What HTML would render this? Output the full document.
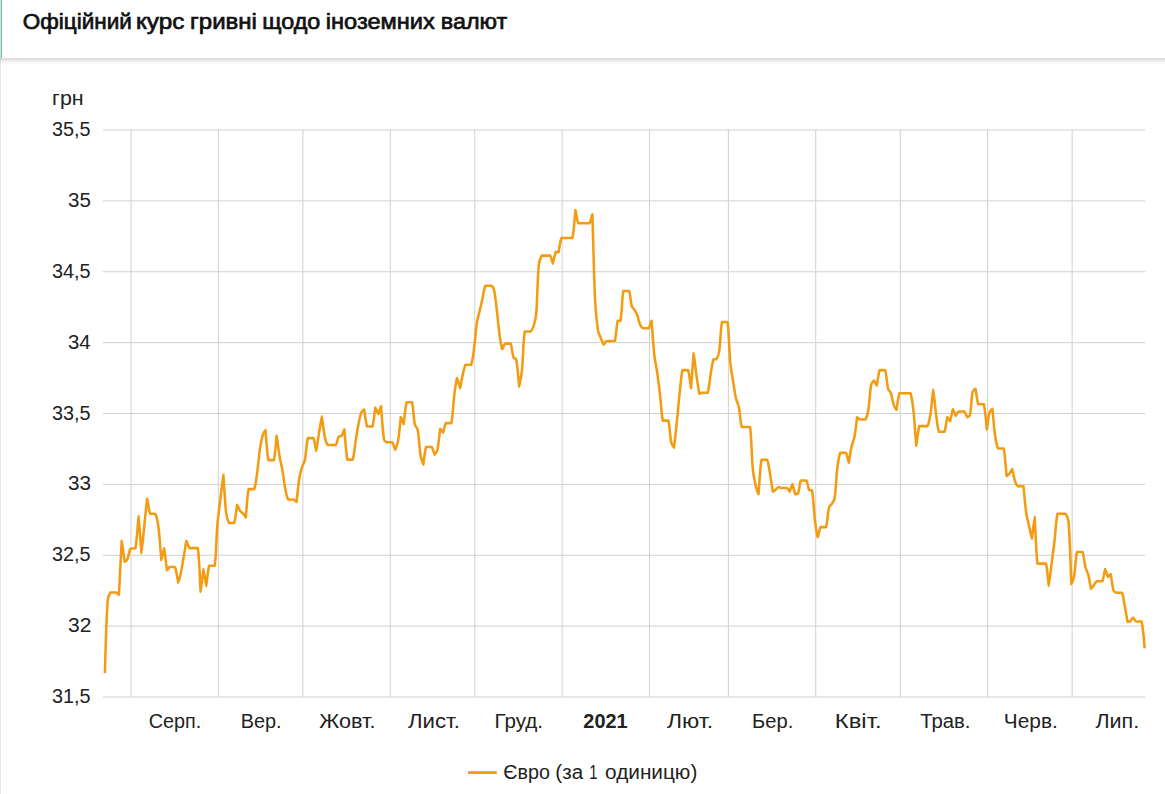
<!DOCTYPE html>
<html lang="uk"><head><meta charset="utf-8"><title>Офіційний курс гривні щодо іноземних валют</title>
<style>
html,body{margin:0;padding:0;background:#fff;}
html{width:1165px;height:794px;overflow:hidden;}
body{width:1165px;height:794px;position:relative;overflow:hidden;font-family:"Liberation Sans",sans-serif;color:#222222;}
.hdr{position:absolute;left:0;top:0;width:1165px;height:58px;background:#fff;box-sizing:border-box;z-index:2;}
.hdr .b1{position:absolute;left:0;top:0;width:1px;height:58px;background:#bdeed6;}
.hdr .b2{position:absolute;left:1px;top:0;width:1px;height:58px;background:#86b79f;}
.sh{position:absolute;left:0;top:58px;width:1165px;height:6px;z-index:2;background:linear-gradient(to bottom,#dcdcdc 0,#dcdcdc 1px,#e2e2e2 1px,#e2e2e2 2px,#e9e9e9 2px,#e9e9e9 3px,#f0f0f0 3px,#f0f0f0 4px,#f7f7f7 4px,#f7f7f7 5px,#fcfcfc 5px,#fcfcfc 6px);}
.lb{position:absolute;left:0;top:58px;width:1px;height:736px;background:rgba(0,0,0,.085);z-index:4;}
svg{position:absolute;left:0;top:0;}
svg.c{z-index:1;}
svg.t{z-index:3;}
svg text{font-family:"Liberation Sans",sans-serif;fill:#222222;}
svg.t text{fill:#111111;}
</style></head><body>
<div class="hdr"><div class="b1"></div><div class="b2"></div></div>
<svg class="t" width="1165" height="58" viewBox="0 0 1165 58">
<text x="22.81" y="28.80" font-size="22.5" textLength="108.98" lengthAdjust="spacingAndGlyphs" stroke="#111111" stroke-width="0.7">Офіційний</text>
<text x="135.95" y="28.80" font-size="22.5" textLength="48.41" lengthAdjust="spacingAndGlyphs" stroke="#111111" stroke-width="0.7">курс</text>
<text x="190.01" y="28.80" font-size="22.5" textLength="66.97" lengthAdjust="spacingAndGlyphs" stroke="#111111" stroke-width="0.7">гривні</text>
<text x="262.30" y="28.80" font-size="22.5" textLength="58.02" lengthAdjust="spacingAndGlyphs" stroke="#111111" stroke-width="0.7">щодо</text>
<text x="325.85" y="28.80" font-size="22.5" textLength="108.91" lengthAdjust="spacingAndGlyphs" stroke="#111111" stroke-width="0.7">іноземних</text>
<text x="440.82" y="28.80" font-size="22.5" textLength="66.37" lengthAdjust="spacingAndGlyphs" stroke="#111111" stroke-width="0.7">валют</text>
</svg>
<div class="sh"></div>
<div class="lb"></div>
<svg class="c" width="1165" height="794" viewBox="0 0 1165 794">
<g stroke="#d0d0d0" stroke-width="1">
<line x1="131.00" y1="129.5" x2="131.00" y2="697.2"/>
<line x1="218.35" y1="129.5" x2="218.35" y2="697.2"/>
<line x1="302.89" y1="129.5" x2="302.89" y2="697.2"/>
<line x1="390.24" y1="129.5" x2="390.24" y2="697.2"/>
<line x1="474.77" y1="129.5" x2="474.77" y2="697.2"/>
<line x1="562.12" y1="129.5" x2="562.12" y2="697.2"/>
<line x1="649.48" y1="129.5" x2="649.48" y2="697.2"/>
<line x1="728.37" y1="129.5" x2="728.37" y2="697.2"/>
<line x1="815.73" y1="129.5" x2="815.73" y2="697.2"/>
<line x1="900.26" y1="129.5" x2="900.26" y2="697.2"/>
<line x1="987.61" y1="129.5" x2="987.61" y2="697.2"/>
<line x1="1072.15" y1="129.5" x2="1072.15" y2="697.2"/>
<line x1="102.9" y1="130.000" x2="1145.2" y2="130.000"/>
<line x1="102.9" y1="200.875" x2="1145.2" y2="200.875"/>
<line x1="102.9" y1="271.750" x2="1145.2" y2="271.750"/>
<line x1="102.9" y1="342.625" x2="1145.2" y2="342.625"/>
<line x1="102.9" y1="413.500" x2="1145.2" y2="413.500"/>
<line x1="102.9" y1="484.375" x2="1145.2" y2="484.375"/>
<line x1="102.9" y1="555.250" x2="1145.2" y2="555.250"/>
<line x1="102.9" y1="626.125" x2="1145.2" y2="626.125"/>
<line x1="102.9" y1="697.000" x2="1145.2" y2="697.000"/>
</g>
<text x="51.92" y="136.10" font-size="19.5" textLength="38.59" lengthAdjust="spacingAndGlyphs">35,5</text>
<text x="68.00" y="206.97" font-size="19.5" textLength="22.93" lengthAdjust="spacingAndGlyphs">35</text>
<text x="51.92" y="277.85" font-size="19.5" textLength="38.59" lengthAdjust="spacingAndGlyphs">34,5</text>
<text x="68.05" y="348.73" font-size="19.5" textLength="22.67" lengthAdjust="spacingAndGlyphs">34</text>
<text x="51.92" y="419.60" font-size="19.5" textLength="38.59" lengthAdjust="spacingAndGlyphs">33,5</text>
<text x="67.97" y="490.48" font-size="19.5" textLength="23.06" lengthAdjust="spacingAndGlyphs">33</text>
<text x="51.92" y="561.35" font-size="19.5" textLength="38.59" lengthAdjust="spacingAndGlyphs">32,5</text>
<text x="67.97" y="632.23" font-size="19.5" textLength="23.42" lengthAdjust="spacingAndGlyphs">32</text>
<text x="51.92" y="703.10" font-size="19.5" textLength="38.59" lengthAdjust="spacingAndGlyphs">31,5</text>
<text x="52.14" y="105.00" font-size="20.5" textLength="31.52" lengthAdjust="spacingAndGlyphs">грн</text>
<text x="148.71" y="727.80" font-size="19.5" textLength="52.46" lengthAdjust="spacingAndGlyphs">Серп.</text>
<text x="240.73" y="727.80" font-size="19.5" textLength="40.84" lengthAdjust="spacingAndGlyphs">Вер.</text>
<text x="319.23" y="727.80" font-size="19.5" textLength="56.35" lengthAdjust="spacingAndGlyphs">Жовт.</text>
<text x="408.08" y="727.80" font-size="19.5" textLength="51.88" lengthAdjust="spacingAndGlyphs">Лист.</text>
<text x="494.40" y="727.80" font-size="19.5" textLength="48.67" lengthAdjust="spacingAndGlyphs">Груд.</text>
<text x="583.38" y="727.80" font-size="19.5" font-weight="bold" textLength="44.19" lengthAdjust="spacingAndGlyphs">2021</text>
<text x="666.98" y="727.80" font-size="19.5" textLength="46.14" lengthAdjust="spacingAndGlyphs">Лют.</text>
<text x="752.12" y="727.80" font-size="19.5" textLength="41.11" lengthAdjust="spacingAndGlyphs">Бер.</text>
<text x="834.85" y="727.80" font-size="19.5" textLength="46.70" lengthAdjust="spacingAndGlyphs">Квіт.</text>
<text x="920.16" y="727.80" font-size="19.5" textLength="50.19" lengthAdjust="spacingAndGlyphs">Трав.</text>
<text x="1003.88" y="727.80" font-size="19.5" textLength="53.97" lengthAdjust="spacingAndGlyphs">Черв.</text>
<text x="1095.40" y="727.80" font-size="19.5" textLength="43.76" lengthAdjust="spacingAndGlyphs">Лип.</text>
<text x="503.39" y="778.50" font-size="19.5" textLength="46.58" lengthAdjust="spacingAndGlyphs">Євро</text>
<text x="555.37" y="778.50" font-size="19.5" textLength="27.75" lengthAdjust="spacingAndGlyphs">(за</text>
<text x="589.15" y="778.50" font-size="19.5" textLength="8.29" lengthAdjust="spacingAndGlyphs">1</text>
<text x="605.08" y="778.50" font-size="19.5" textLength="92.27" lengthAdjust="spacingAndGlyphs">одиницю)</text>
<path fill="none" stroke="#f39c12" stroke-width="2.55" stroke-linejoin="round" stroke-linecap="butt" d="M104.92,673.10C104.92,673.10 106.22,622.52 107.67,601.00C107.85,598.34 109.08,594.43 110.34,592.50C110.75,592.50 112.36,592.50 113.23,592.50C114.09,592.50 115.36,592.50 116.11,592.50C117.05,592.88 118.84,594.80 118.87,594.80C119.27,591.16 121.46,542.59 121.78,540.80C121.90,540.80 124.38,560.50 124.74,561.70C124.80,561.70 126.90,560.32 127.30,559.40C128.60,556.42 129.03,551.36 130.41,548.70C130.72,548.50 132.18,548.56 132.94,548.50C133.70,548.44 135.35,548.50 135.47,548.30C137.04,539.23 138.37,515.90 138.58,515.90C138.82,516.10 141.24,552.87 141.49,553.30C141.67,553.30 143.47,534.12 144.32,525.90C145.17,517.68 146.88,499.09 147.16,498.50C147.31,498.50 148.67,509.69 150.12,513.60C150.37,513.85 152.01,513.77 152.83,513.85C153.64,513.93 155.25,513.85 155.54,514.10C156.94,517.43 157.93,523.21 158.44,527.20C159.71,537.01 161.14,558.96 161.45,560.10C161.57,560.10 163.96,548.10 164.11,548.10C164.38,548.59 166.72,569.12 167.07,570.30C167.14,570.30 169.48,567.05 169.73,566.90C169.88,566.90 171.59,566.97 172.39,567.00C173.19,567.03 174.80,567.00 175.05,567.10C176.56,571.14 177.99,582.48 178.26,582.70C178.44,582.70 180.39,575.32 181.07,572.10C182.04,567.44 182.96,561.15 183.77,556.45C184.59,551.75 186.20,541.22 186.48,540.80C186.63,540.80 188.21,546.48 189.49,548.10C189.95,548.10 191.45,548.10 192.28,548.10C193.12,548.10 194.24,548.10 195.08,548.10C195.91,548.10 197.77,548.10 197.87,548.10C199.45,560.42 200.40,590.77 200.68,591.80C200.82,591.80 203.20,569.34 203.44,569.10C203.61,569.10 206.00,586.10 206.20,586.10C206.43,585.96 207.67,571.09 209.20,565.70C209.41,565.70 211.15,565.70 211.99,565.70C212.82,565.70 214.67,565.70 214.77,565.70C216.29,554.18 216.35,536.98 217.38,524.70C218.02,517.13 219.45,507.10 220.34,499.55C221.23,492.00 223.13,474.40 223.30,474.40C223.56,474.97 224.75,500.94 226.06,512.20C226.44,515.49 227.58,520.31 228.92,522.90C229.24,522.90 230.78,522.90 231.58,522.90C232.37,522.90 234.02,522.90 234.23,522.90C235.69,518.13 236.82,505.34 237.14,504.70C237.27,504.70 239.08,509.37 240.25,511.10C240.84,511.98 242.31,512.60 243.01,513.40C243.96,514.49 245.71,517.40 245.77,517.40C246.13,515.84 247.08,496.82 248.63,489.10C248.78,489.10 250.61,489.10 251.46,489.10C252.31,489.10 254.05,489.10 254.30,489.10C255.77,484.84 256.50,477.50 257.21,472.50C258.20,465.38 258.92,455.80 259.96,448.70C260.57,444.58 261.58,439.07 262.72,435.10C263.20,433.43 265.31,429.90 265.38,429.90C265.74,431.47 266.81,451.79 268.39,460.10C268.54,460.10 270.32,460.10 271.15,460.10C271.98,460.10 273.74,460.10 273.91,460.10C275.40,453.49 276.44,435.79 276.67,435.60C276.85,435.60 278.44,449.56 279.43,455.50C280.17,459.97 281.65,465.84 282.44,470.30C283.38,475.71 284.16,483.01 285.19,488.40C285.83,491.71 286.66,496.63 288.00,499.30C288.33,499.50 289.93,499.44 290.76,499.50C291.59,499.56 292.79,499.50 293.52,499.70C294.52,500.13 296.47,502.00 296.53,502.00C296.90,500.61 298.17,485.29 299.29,478.20C299.83,474.76 301.00,470.21 302.05,466.90C302.65,464.99 304.42,462.75 304.81,460.80C306.15,454.11 306.27,444.17 307.82,438.10C308.00,438.10 309.76,438.10 310.60,438.10C311.43,438.10 313.09,438.10 313.38,438.10C314.76,441.30 315.96,451.00 316.14,451.00C316.38,450.81 318.11,438.85 318.95,433.65C319.79,428.44 321.56,416.30 321.76,416.30C321.99,416.41 323.47,430.38 324.67,436.30C325.20,438.96 326.23,442.93 327.53,444.90C327.93,444.90 329.49,444.90 330.34,444.90C331.18,444.90 332.30,444.90 333.15,444.90C333.99,444.90 335.55,444.90 335.95,444.90C337.22,443.04 337.46,438.72 338.71,436.70C339.16,435.99 341.12,436.47 341.62,435.80C342.80,434.22 344.25,429.20 344.33,429.20C344.68,430.65 345.72,451.23 347.29,459.60C347.43,459.60 349.20,459.60 350.02,459.60C350.84,459.60 352.54,459.60 352.76,459.60C354.19,454.99 354.66,447.21 355.52,441.90C356.39,436.47 357.45,429.19 358.53,423.80C359.21,420.34 360.12,415.59 361.38,412.40C361.82,411.30 364.11,409.50 364.19,409.50C364.54,410.36 365.61,422.09 367.05,426.50C367.28,426.50 368.95,426.50 369.76,426.50C370.57,426.50 372.26,426.50 372.47,426.50C373.95,421.47 375.06,408.07 375.38,407.40C375.50,407.40 378.14,414.20 378.34,414.20C378.56,414.15 380.91,406.10 381.00,406.10C381.34,407.62 382.45,429.86 384.01,439.60C384.18,440.72 385.80,441.82 386.76,442.30C387.44,442.30 388.66,442.30 389.47,442.30C390.29,442.30 391.75,442.30 392.18,442.30C393.47,443.99 394.99,449.80 395.19,449.80C395.43,449.74 397.62,443.59 398.10,440.80C399.32,433.75 400.55,417.94 400.86,417.00C400.96,417.00 403.51,424.20 403.62,424.20C403.94,423.38 405.10,408.08 406.63,402.20C406.81,402.20 408.52,402.20 409.34,402.20C410.15,402.20 411.87,402.20 412.05,402.20C413.51,408.08 413.48,417.75 414.80,424.20C415.18,426.06 417.37,428.03 417.71,429.90C419.10,437.42 419.34,447.90 420.57,455.50C421.03,458.31 423.19,464.60 423.33,464.60C423.60,464.18 424.64,451.48 426.09,446.90C426.32,446.90 428.07,446.90 428.92,446.90C429.77,446.90 431.32,446.90 431.76,446.90C433.05,448.67 434.41,454.67 434.67,454.80C434.84,454.80 437.07,451.46 437.43,449.80C438.75,443.63 439.94,429.73 440.28,428.70C440.36,428.70 442.96,432.80 443.09,432.80C443.37,432.52 444.55,425.38 445.85,423.10C446.21,423.10 447.78,423.10 448.61,423.10C449.44,423.10 451.22,423.10 451.37,423.10C452.95,415.21 453.28,402.91 454.38,394.30C455.01,389.38 456.88,378.27 457.14,378.00C457.31,378.00 459.86,388.40 460.05,388.40C460.28,388.26 461.78,378.70 462.76,374.60C463.47,371.59 464.32,367.04 465.66,364.70C466.02,364.70 467.60,364.70 468.42,364.70C469.25,364.70 470.93,364.70 471.18,364.70C472.59,360.86 473.32,354.16 473.94,349.60C475.04,341.47 475.68,330.50 476.90,322.40C477.44,318.77 478.97,314.08 479.81,310.50C480.67,306.79 481.74,301.82 482.57,298.10C483.40,294.38 483.95,288.73 485.33,285.70C485.64,285.70 487.35,285.70 488.21,285.70C489.08,285.70 490.42,285.70 491.09,285.70C492.11,286.31 493.56,287.85 493.85,289.10C495.26,294.99 496.00,303.37 496.76,309.50C497.70,316.99 498.48,327.03 499.52,334.50C500.14,338.94 501.98,348.72 502.28,349.20C502.40,349.20 503.97,344.77 505.14,343.60C505.65,343.60 507.05,343.60 507.87,343.60C508.69,343.60 510.33,343.60 510.61,343.60C512.04,347.13 512.19,353.73 513.57,357.60C513.87,358.47 516.05,358.49 516.22,359.40C517.75,367.19 518.97,386.13 519.23,386.60C519.40,386.60 521.48,374.74 521.99,369.60C523.13,358.21 523.18,342.13 524.75,331.50C524.87,331.50 526.77,331.50 527.63,331.50C528.50,331.50 529.93,331.50 530.52,331.50C531.67,330.52 532.90,328.21 533.43,326.60C534.60,322.99 535.86,317.92 536.19,314.10C537.45,299.53 537.37,279.83 538.75,265.30C539.03,262.28 540.35,257.88 541.70,255.60C542.08,255.60 543.66,255.60 544.50,255.60C545.33,255.60 546.45,255.60 547.29,255.60C548.13,255.60 549.67,255.60 550.08,255.60C551.33,257.40 552.67,263.60 552.84,263.60C553.09,263.43 555.41,252.38 555.75,251.70C555.83,251.70 558.39,252.40 558.46,252.40C558.82,251.53 560.01,241.57 561.47,237.90C561.74,237.90 563.40,237.90 564.23,237.90C565.05,237.90 566.16,237.90 566.98,237.90C567.81,237.90 568.92,237.90 569.74,237.90C570.57,237.90 572.35,237.90 572.50,237.90C574.08,230.25 575.22,210.64 575.51,209.90C575.65,209.90 576.89,219.96 578.27,223.30C578.55,223.30 580.23,223.30 581.07,223.30C581.91,223.30 583.02,223.30 583.86,223.30C584.70,223.30 585.82,223.30 586.66,223.30C587.50,223.30 589.07,223.30 589.46,223.30C590.78,221.22 592.32,214.30 592.36,214.30C592.74,219.48 593.83,274.32 595.07,300.00C595.52,309.15 596.62,321.39 597.98,330.40C598.35,332.85 599.92,335.89 600.84,338.20C601.62,340.15 603.39,344.46 603.65,344.60C603.81,344.60 605.39,341.83 606.41,341.20C607.06,341.13 608.38,341.15 609.22,341.13C610.06,341.11 611.18,341.09 612.03,341.07C612.87,341.05 614.63,341.07 614.84,341.00C616.34,335.66 616.25,326.14 617.74,320.80C617.95,320.80 620.36,320.80 620.50,320.80C622.05,312.58 621.80,299.10 623.36,290.90C623.51,290.90 625.35,290.90 626.20,290.90C627.05,290.90 628.77,290.90 629.03,290.90C630.45,294.75 630.51,301.73 631.79,306.10C632.21,307.52 633.94,308.90 634.70,310.20C635.64,311.81 636.81,314.05 637.46,315.80C638.46,318.49 639.05,322.43 640.22,325.00C640.74,326.15 642.05,327.62 643.07,328.20C643.73,328.20 645.01,328.20 645.83,328.20C646.66,328.20 648.16,328.20 648.59,328.20C649.86,326.52 651.42,320.70 651.50,320.70C651.85,322.29 653.15,344.39 654.26,354.50C654.89,360.23 656.51,367.78 657.32,373.50C658.28,380.26 659.38,389.31 660.18,396.10C661.04,403.44 661.38,413.99 662.84,420.60C663.00,420.60 664.77,420.60 665.60,420.60C666.42,420.60 668.17,420.60 668.36,420.60C669.87,426.47 669.91,436.16 671.26,442.60C671.61,444.26 673.95,447.60 674.02,447.60C674.37,446.27 676.11,429.06 676.93,421.10C677.81,412.59 678.75,401.21 679.69,392.70C680.44,385.91 681.04,376.14 682.55,370.10C682.73,370.10 684.50,370.10 685.33,370.10C686.17,370.10 687.89,370.10 688.12,370.10C689.59,374.81 690.83,388.20 690.98,388.20C691.25,387.36 693.48,353.60 693.74,353.10C693.91,353.10 695.64,369.78 696.64,376.90C697.37,382.02 699.14,392.89 699.50,393.90C699.57,393.90 701.40,392.89 702.26,392.70C703.05,392.70 704.18,392.70 705.00,392.70C705.82,392.70 707.52,392.70 707.73,392.70C709.22,387.77 709.70,379.52 710.69,373.90C711.46,369.47 712.16,362.92 713.60,359.20C713.86,359.20 715.92,359.20 716.36,359.20C717.58,357.58 718.76,354.20 719.12,351.90C720.46,343.04 720.47,330.22 722.02,322.00C722.17,322.00 723.96,322.00 724.78,322.00C725.61,322.00 727.44,322.00 727.54,322.00C729.09,333.41 729.16,350.45 730.30,362.60C730.86,368.48 732.28,376.26 733.21,382.10C733.99,387.00 734.88,393.58 735.97,398.40C736.57,401.05 738.29,404.34 738.83,407.00C740.02,412.89 740.24,421.65 741.74,426.90C741.94,426.90 743.68,426.90 744.51,426.90C745.34,426.90 746.45,426.90 747.29,426.90C748.12,426.90 749.96,426.90 750.06,426.90C751.62,438.81 751.61,456.56 752.82,469.20C753.28,474.02 754.56,480.39 755.63,485.10C756.26,487.89 758.39,494.20 758.49,494.20C758.83,492.71 759.88,469.34 761.50,459.80C761.63,459.80 763.48,459.80 764.33,459.80C765.18,459.80 766.89,459.80 767.17,459.80C768.61,463.45 769.29,469.93 770.08,474.30C771.01,479.50 772.53,490.73 772.88,491.70C772.95,491.70 774.87,490.36 775.64,489.70C776.52,488.95 778.16,487.08 778.40,487.00C778.59,487.00 780.42,487.76 781.31,487.90C782.12,487.90 783.24,487.90 784.07,487.90C784.90,487.90 786.22,487.90 786.83,487.90C787.87,488.62 789.44,491.70 789.59,491.70C789.85,491.51 792.21,484.00 792.40,484.00C792.64,484.11 794.92,493.63 795.26,494.20C795.34,494.20 797.73,494.20 798.01,493.60C799.40,490.18 799.43,483.68 800.82,480.40C801.11,480.40 802.79,480.40 803.63,480.40C804.47,480.40 806.08,480.40 806.44,480.40C807.75,482.70 807.89,487.90 809.20,490.20C809.56,490.20 811.86,490.20 812.01,490.20C813.56,498.25 813.79,510.81 814.87,519.60C815.52,524.94 817.50,536.95 817.78,537.30C817.94,537.30 819.31,529.54 820.64,527.10C820.98,527.10 822.53,527.10 823.34,527.10C824.16,527.10 825.85,527.10 826.05,527.10C827.56,521.96 827.66,513.25 829.06,507.60C829.39,506.26 831.09,505.00 831.82,503.80C832.75,502.27 834.31,500.25 834.58,498.50C835.98,489.36 836.24,476.76 837.39,467.50C837.94,463.02 838.81,456.44 840.25,452.70C840.52,452.70 842.23,452.70 843.08,452.70C843.93,452.70 845.56,452.70 845.92,452.70C847.26,455.11 848.61,462.90 848.77,462.90C849.02,462.65 850.41,451.79 851.43,447.10C852.11,443.99 853.84,440.02 854.44,436.90C855.57,431.05 856.84,418.31 857.20,417.20C857.27,417.20 859.11,419.02 860.06,419.40C860.78,419.40 861.97,419.40 862.79,419.40C863.61,419.40 865.17,419.40 865.53,419.40C866.85,417.11 867.90,412.69 868.39,409.70C869.59,402.31 869.76,392.07 871.15,384.80C871.43,383.31 873.76,380.50 873.95,380.50C874.18,380.53 876.65,385.60 876.76,385.60C877.08,385.03 878.23,374.06 879.67,370.10C879.93,370.10 881.60,370.10 882.43,370.10C883.26,370.10 884.97,370.10 885.19,370.10C886.67,374.97 886.76,383.30 888.10,388.70C888.46,390.17 890.36,391.57 890.86,393.00C892.04,396.40 892.58,401.37 893.72,404.80C894.27,406.47 896.37,410.00 896.48,410.00C896.79,409.35 897.96,397.54 899.43,393.20C899.68,393.20 901.37,393.20 902.21,393.20C903.04,393.20 904.15,393.20 904.98,393.20C905.81,393.20 906.92,393.20 907.75,393.20C908.58,393.20 910.29,393.20 910.52,393.20C912.03,397.95 912.93,405.90 913.53,411.40C914.66,421.71 916.01,445.20 916.29,445.90C916.45,445.90 917.78,431.33 919.30,426.10C919.50,426.10 921.20,426.10 922.02,426.10C922.84,426.10 923.93,426.10 924.75,426.10C925.57,426.10 927.15,426.10 927.47,426.10C928.84,423.35 929.84,418.25 930.38,414.80C931.57,407.24 933.03,389.44 933.24,389.40C933.45,389.40 935.03,406.43 936.00,413.70C936.73,419.15 937.43,427.08 938.91,431.80C939.13,431.80 940.84,431.80 941.67,431.80C942.50,431.80 944.16,431.80 944.43,431.80C945.86,428.08 947.02,417.70 947.34,417.10C947.44,417.10 949.98,421.20 950.10,421.20C950.39,420.77 952.59,409.35 952.85,409.10C953.01,409.10 955.37,415.80 955.61,415.90C955.79,415.90 957.39,412.28 958.52,411.40C959.13,411.40 960.54,411.40 961.41,411.40C962.27,411.40 963.75,411.40 964.29,411.40C965.48,412.58 966.87,416.91 967.15,417.10C967.29,417.10 969.70,416.23 969.91,415.30C971.37,408.61 971.29,398.51 972.72,391.70C972.96,390.53 975.39,388.70 975.48,388.70C975.81,389.44 976.90,400.25 978.33,404.20C978.59,404.20 980.28,404.20 981.12,404.20C981.95,404.20 983.73,404.20 983.90,404.20C985.47,411.04 986.66,429.13 986.91,429.50C987.08,429.50 988.24,417.40 989.52,412.50C989.87,411.16 992.27,408.70 992.33,408.70C992.69,410.23 994.00,428.08 995.19,436.30C995.73,440.02 996.69,445.51 998.10,448.50C998.41,448.50 1000.06,448.50 1000.91,448.50C1001.75,448.50 1003.56,448.50 1003.71,448.50C1005.27,455.96 1006.25,474.22 1006.62,475.90C1006.67,475.90 1008.69,474.50 1009.33,473.70C1010.33,472.46 1011.96,469.10 1012.09,469.10C1012.40,469.51 1013.89,477.90 1015.10,481.50C1015.64,483.09 1017.63,486.16 1017.91,486.40C1018.05,486.40 1019.84,486.33 1020.67,486.30C1021.50,486.27 1023.39,486.20 1023.43,486.20C1023.81,488.07 1025.12,505.50 1026.29,513.70C1026.80,517.35 1028.25,522.09 1029.04,525.70C1029.90,529.56 1031.64,538.60 1031.80,538.60C1032.07,538.20 1034.58,517.10 1034.71,517.10C1035.00,518.38 1035.89,550.45 1037.47,563.60C1037.57,563.60 1039.46,563.60 1040.31,563.60C1041.17,563.60 1042.30,563.60 1043.16,563.60C1044.01,563.60 1045.81,563.60 1046.00,563.60C1047.49,569.57 1048.55,586.00 1048.76,586.00C1048.96,586.00 1050.70,570.39 1051.57,563.70C1052.40,557.19 1053.66,548.52 1054.42,542.00C1055.42,533.52 1055.87,521.46 1057.43,513.70C1057.58,513.70 1059.32,513.70 1060.13,513.70C1060.93,513.70 1062.01,513.70 1062.82,513.70C1063.63,513.70 1065.10,513.70 1065.51,513.70C1066.81,515.50 1068.31,519.09 1068.52,521.60C1070.07,540.24 1071.01,580.59 1071.38,584.20C1071.43,584.20 1073.65,578.69 1074.09,576.20C1075.34,569.00 1075.47,558.45 1077.00,551.90C1077.17,551.90 1078.93,551.90 1079.75,551.90C1080.58,551.90 1082.26,551.90 1082.51,551.90C1083.96,555.80 1084.28,562.68 1085.42,567.20C1086.00,569.49 1087.64,572.31 1088.23,574.60C1089.34,578.85 1090.77,588.42 1091.09,589.00C1091.20,589.00 1093.09,586.20 1093.95,585.00C1094.76,583.86 1095.62,581.91 1096.66,581.20C1097.29,581.20 1098.64,581.20 1099.49,581.20C1100.34,581.20 1102.02,581.20 1102.33,581.20C1103.69,578.22 1104.83,569.19 1105.08,569.00C1105.26,569.00 1107.71,576.75 1107.99,577.00C1108.13,577.00 1110.57,574.00 1110.65,574.00C1110.99,574.82 1112.16,585.87 1113.56,590.50C1113.86,591.48 1115.39,592.34 1116.32,592.70C1117.07,592.70 1118.32,592.70 1119.18,592.70C1120.04,592.70 1121.75,592.70 1122.04,592.70C1123.44,596.08 1124.01,602.21 1124.80,606.30C1125.70,611.00 1127.30,621.06 1127.66,622.00C1127.72,622.00 1129.76,621.62 1130.41,621.10C1131.43,620.30 1133.02,617.60 1133.22,617.60C1133.45,617.62 1135.05,620.75 1136.13,621.50C1136.74,621.50 1138.05,621.50 1138.87,621.50C1139.69,621.50 1141.44,621.50 1141.60,621.50C1143.18,628.80 1144.66,648.30 1144.66,648.30"/>
<line x1="468" y1="772.6" x2="496.8" y2="772.6" stroke="#f39c12" stroke-width="2.8"/>
</svg>
</body></html>
